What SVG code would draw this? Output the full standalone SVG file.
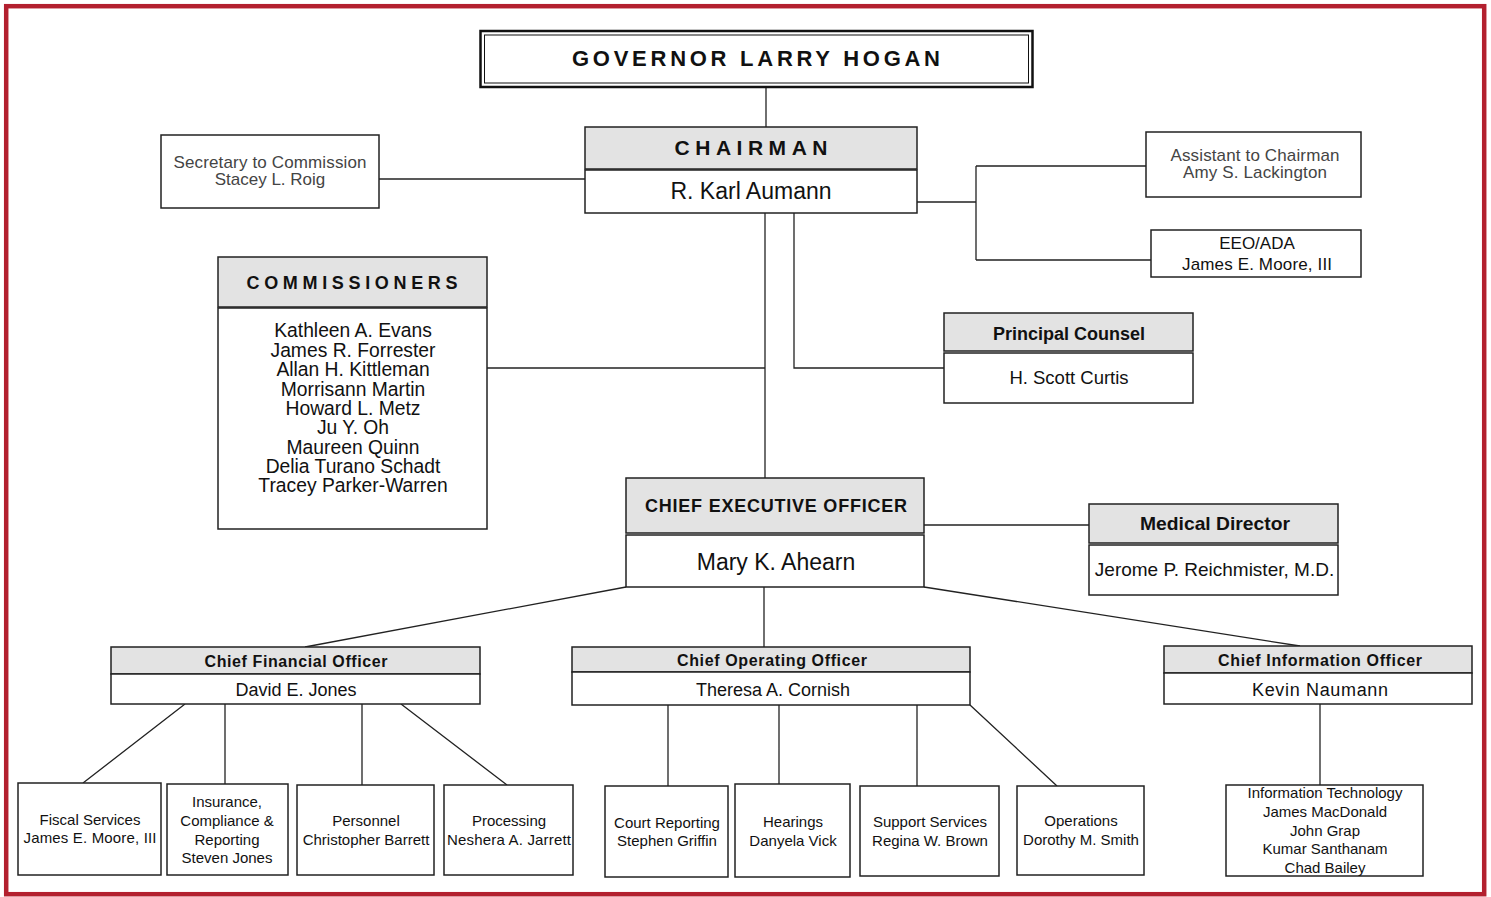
<svg xmlns="http://www.w3.org/2000/svg" width="1491" height="897" viewBox="0 0 1491 897">
<style>
.box{fill:#fff;stroke:#222;stroke-width:1.5}
.hdr{fill:#e3e3e3;stroke:#222;stroke-width:1.5}
.ln{stroke:#222;stroke-width:1.3;fill:none}
.t{font-family:"Liberation Sans",Arial,sans-serif;text-anchor:middle;fill:#111}
.b{font-weight:bold}
.g{fill:#444}
.s15{font-size:15px}
.s17{font-size:17px}
.s18{font-size:18px}
.cm{font-size:19.3px}
</style>
<rect x="0" y="0" width="1491" height="897" fill="#fff"/>
<rect x="6.2" y="6.2" width="1478" height="888" fill="none" stroke="#B3202F" stroke-width="4.5"/>

<g id="connectors">
<path class="ln" d="M766 88V127"/>
<path class="ln" d="M379 179H585"/>
<path class="ln" d="M917 202H976M976 166V260M976 166H1146M976 260H1151"/>
<path class="ln" d="M794 213V368H944"/>
<path class="ln" d="M765 213V478"/>
<path class="ln" d="M487 368H765"/>
<path class="ln" d="M924 525H1089"/>
<path class="ln" d="M626 587L305 647"/>
<path class="ln" d="M764 587V647"/>
<path class="ln" d="M924 587L1300 646"/>
<path class="ln" d="M185 704L83 783M225 704V784M362 704V785M401 704L507 785"/>
<path class="ln" d="M668 705V786M779 705V784M917 705V786M970 705L1057 786"/>
<path class="ln" d="M1320 704V785"/>
</g>

<g id="governor">
<rect x="480.5" y="31" width="552" height="56" fill="#fff" stroke="#111" stroke-width="2.5"/>
<rect x="484.5" y="35" width="544" height="48" fill="none" stroke="#111" stroke-width="1"/>
<text class="t b" x="756" y="66" font-size="22" textLength="368" lengthAdjust="spacing">GOVERNOR LARRY HOGAN</text>
</g>

<g id="chairman">
<rect class="hdr" x="585" y="127" width="332" height="42"/>
<rect class="box" x="585" y="170" width="332" height="43"/>
<text class="t b" x="751" y="155" font-size="21" textLength="153" lengthAdjust="spacing">CHAIRMAN</text>
<text class="t" x="751" y="199" font-size="23">R. Karl Aumann</text>
</g>

<g id="secretary">
<rect class="box" x="161" y="135" width="218" height="73"/>
<text class="t g" x="270" y="168" font-size="17" textLength="193">Secretary to Commission</text>
<text class="t g" x="270" y="185" font-size="17">Stacey L. Roig</text>
</g>

<g id="assistant">
<rect class="box" x="1146" y="132" width="215" height="65"/>
<text class="t g" x="1255" y="161" font-size="17" textLength="169">Assistant to Chairman</text>
<text class="t g" x="1255" y="178" font-size="17" textLength="144">Amy S. Lackington</text>
</g>

<g id="eeo">
<rect class="box" x="1151" y="230" width="210" height="47"/>
<text class="t s17" x="1257" y="249">EEO/ADA</text>
<text class="t s17" x="1257" y="270" textLength="150">James E. Moore, III</text>
</g>

<g id="principal-counsel">
<rect class="hdr" x="944" y="313" width="249" height="38"/>
<rect class="box" x="944" y="353" width="249" height="50"/>
<text class="t b" x="1069" y="339.5" font-size="18">Principal Counsel</text>
<text class="t" x="1069" y="383.5" font-size="18.5">H. Scott Curtis</text>
</g>

<g id="commissioners">
<rect class="hdr" x="218" y="257" width="269" height="50"/>
<rect class="box" x="218" y="308" width="269" height="221"/>
<text class="t b" x="352" y="288.5" font-size="18" textLength="211" lengthAdjust="spacing">COMMISSIONERS</text>
<text class="t cm" x="353" y="337">Kathleen A. Evans</text>
<text class="t cm" x="353" y="356.5">James R. Forrester</text>
<text class="t cm" x="353" y="376">Allan H. Kittleman</text>
<text class="t cm" x="353" y="395.5">Morrisann Martin</text>
<text class="t cm" x="353" y="414.5">Howard L. Metz</text>
<text class="t cm" x="353" y="434">Ju Y. Oh</text>
<text class="t cm" x="353" y="453.5">Maureen Quinn</text>
<text class="t cm" x="353" y="472.5">Delia Turano Schadt</text>
<text class="t cm" x="353" y="492">Tracey Parker-Warren</text>
</g>

<g id="ceo">
<rect class="hdr" x="626" y="478" width="298" height="55"/>
<rect class="box" x="626" y="535" width="298" height="52"/>
<text class="t b" x="776" y="511.5" font-size="18" textLength="262">CHIEF EXECUTIVE OFFICER</text>
<text class="t" x="776" y="569.5" font-size="23">Mary K. Ahearn</text>
</g>

<g id="medical-director">
<rect class="hdr" x="1089" y="504" width="249" height="39"/>
<rect class="box" x="1089" y="545" width="249" height="50"/>
<text class="t b" x="1215" y="529.5" font-size="18.5" textLength="150" lengthAdjust="spacingAndGlyphs">Medical Director</text>
<text class="t" x="1214.5" y="575.5" font-size="19">Jerome P. Reichmister, M.D.</text>
</g>

<g id="cfo">
<rect class="hdr" x="111" y="647" width="369" height="27"/>
<rect class="box" x="111" y="674" width="369" height="30"/>
<text class="t b" x="296" y="667" font-size="16" textLength="183">Chief Financial Officer</text>
<text class="t s18" x="296" y="695.5">David E. Jones</text>
</g>

<g id="coo">
<rect class="hdr" x="572" y="647" width="398" height="25"/>
<rect class="box" x="572" y="672" width="398" height="33"/>
<text class="t b" x="772" y="666" font-size="16" textLength="190">Chief Operating Officer</text>
<text class="t s18" x="773" y="695.5">Theresa A. Cornish</text>
</g>

<g id="cio">
<rect class="hdr" x="1164" y="646" width="308" height="27"/>
<rect class="box" x="1164" y="673" width="308" height="31"/>
<text class="t b" x="1320" y="666" font-size="16" textLength="204">Chief Information Officer</text>
<text class="t s18" x="1320" y="695.5" textLength="136">Kevin Naumann</text>
</g>

<g id="fiscal-services">
<rect class="box" x="18" y="783" width="143" height="92"/>
<text class="t s15" x="90" y="825">Fiscal Services</text>
<text class="t s15" x="90" y="843" textLength="133">James E. Moore, III</text>
</g>

<g id="insurance">
<rect class="box" x="167" y="784" width="121" height="91"/>
<text class="t s15" x="227" y="807">Insurance,</text>
<text class="t s15" x="227" y="826">Compliance &amp;</text>
<text class="t s15" x="227" y="845">Reporting</text>
<text class="t s15" x="227" y="863">Steven Jones</text>
</g>

<g id="personnel">
<rect class="box" x="297" y="785" width="137" height="90"/>
<text class="t s15" x="366" y="826">Personnel</text>
<text class="t s15" x="366" y="845">Christopher Barrett</text>
</g>

<g id="processing">
<rect class="box" x="444" y="785" width="129" height="90"/>
<text class="t s15" x="509" y="826">Processing</text>
<text class="t s15" x="509" y="845" textLength="124">Neshera A. Jarrett</text>
</g>

<g id="court-reporting">
<rect class="box" x="605" y="786" width="123" height="91"/>
<text class="t s15" x="667" y="828">Court Reporting</text>
<text class="t s15" x="667" y="846">Stephen Griffin</text>
</g>

<g id="hearings">
<rect class="box" x="735" y="784" width="115" height="93"/>
<text class="t s15" x="793" y="827">Hearings</text>
<text class="t s15" x="793" y="846">Danyela Vick</text>
</g>

<g id="support-services">
<rect class="box" x="860" y="786" width="139" height="90"/>
<text class="t s15" x="930" y="827">Support Services</text>
<text class="t s15" x="930" y="846">Regina W. Brown</text>
</g>

<g id="operations">
<rect class="box" x="1017" y="786" width="127" height="89"/>
<text class="t s15" x="1081" y="826">Operations</text>
<text class="t s15" x="1081" y="845">Dorothy M. Smith</text>
</g>

<g id="information-technology">
<rect class="box" x="1226" y="785" width="197" height="91"/>
<text class="t s15" x="1325" y="798">Information Technology</text>
<text class="t s15" x="1325" y="817">James MacDonald</text>
<text class="t s15" x="1325" y="836">John Grap</text>
<text class="t s15" x="1325" y="854">Kumar Santhanam</text>
<text class="t s15" x="1325" y="873">Chad Bailey</text>
</g>
</svg>
